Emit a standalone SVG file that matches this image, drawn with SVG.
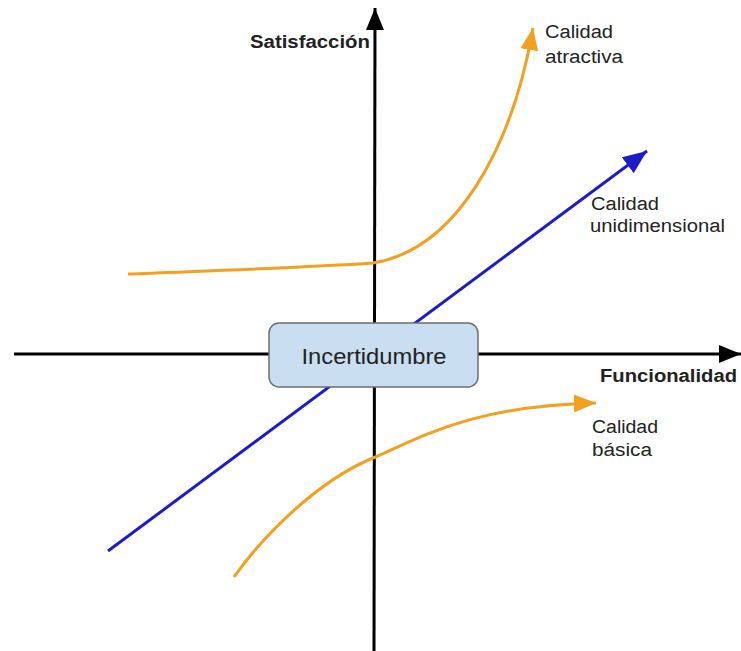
<svg xmlns="http://www.w3.org/2000/svg" width="741" height="651" viewBox="0 0 741 651">
<style>
.axis{stroke:#000;stroke-width:3;fill:none}
.blue{stroke:#1c1cc8;stroke-width:3;fill:none}
.orange{stroke:#f3a020;stroke-width:3;fill:none}
text{font-family:"Liberation Sans",Arial,sans-serif;fill:#222}
.lbl{font-size:18px}
.b{font-weight:bold;font-size:18px}
</style>
<defs>
<marker id="ah" markerUnits="userSpaceOnUse" markerWidth="24" markerHeight="20" refX="22" refY="9" orient="auto"><path d="M0,0 L22,9 L0,18 Z" fill="#000"/></marker>
<marker id="bh" markerUnits="userSpaceOnUse" markerWidth="26" markerHeight="22" refX="24" refY="10" orient="auto"><path d="M0,0 L24,10 L0,20 Z" fill="#1c1cc8"/></marker>
<marker id="oh" markerUnits="userSpaceOnUse" markerWidth="24" markerHeight="20" refX="22" refY="9" orient="auto"><path d="M0,0 L22,9 L0,18 Z" fill="#f3a020"/></marker>
</defs>
<rect width="741" height="651" fill="#fff"/>
<g id="connectors">
<path id="axis-y" class="axis" d="M374,651 L375,8" marker-end="url(#ah)"/>
<path id="axis-x" class="axis" d="M14,354 L741,354" marker-end="url(#ah)"/>
<path id="unidimensional" class="blue" d="M108,551 L647,151" marker-end="url(#bh)"/>
<path id="atractiva" class="orange" d="M128,274 C200,271 300,268 373,263 C455,250 512,150 533,28" marker-end="url(#oh)"/>
<path id="basica" class="orange" d="M234,577 C260,540 315,482 373,458 C420,438 470,406 596,403" marker-end="url(#oh)"/>
</g>
<g id="incertidumbre">
<rect x="269" y="323" width="209" height="64" rx="10" ry="10" fill="#cadef1" stroke="#6e6e6e" stroke-width="1.5"/>
<text x="374" y="364" font-size="22" text-anchor="middle" textLength="145" lengthAdjust="spacingAndGlyphs">Incertidumbre</text>
</g>
<g id="label-satisfaccion"><text class="b" x="250" y="48" textLength="120" lengthAdjust="spacingAndGlyphs">Satisfacción</text></g>
<g id="label-funcionalidad"><text class="b" x="600" y="382" textLength="137" lengthAdjust="spacingAndGlyphs">Funcionalidad</text></g>
<g id="label-atractiva">
<text class="lbl" x="545" y="38" textLength="68" lengthAdjust="spacingAndGlyphs">Calidad</text>
<text class="lbl" x="545" y="63" textLength="78" lengthAdjust="spacingAndGlyphs">atractiva</text>
</g>
<g id="label-unidimensional">
<text class="lbl" x="591" y="210" textLength="68" lengthAdjust="spacingAndGlyphs">Calidad</text>
<text class="lbl" x="590" y="232" textLength="135" lengthAdjust="spacingAndGlyphs">unidimensional</text>
</g>
<g id="label-basica">
<text class="lbl" x="592" y="433" textLength="66" lengthAdjust="spacingAndGlyphs">Calidad</text>
<text class="lbl" x="592" y="456" textLength="60" lengthAdjust="spacingAndGlyphs">básica</text>
</g>
</svg>
